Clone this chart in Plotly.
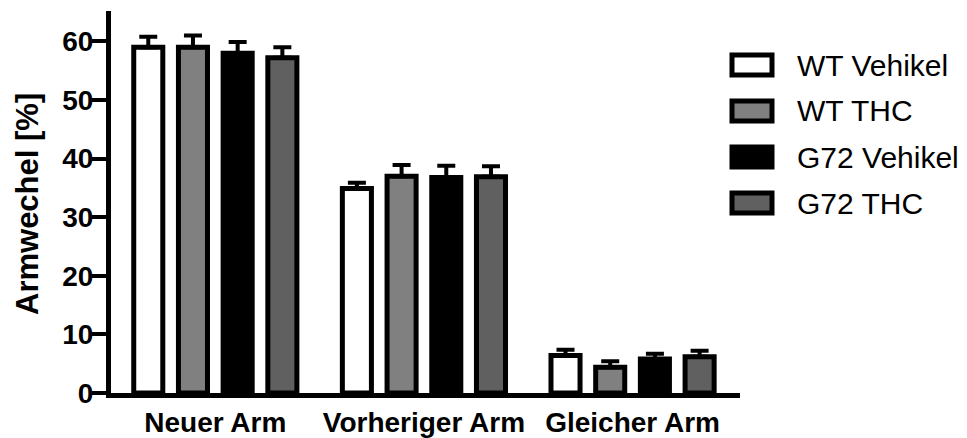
import plotly.graph_objects as go

# Data
categories = ["Neuer Arm", "Vorheriger Arm", "Gleicher Arm"]
groups = ["WT Vehikel", "WT THC", "G72 Vehikel", "G72 THC"]
wt_vehikel = [59.0, 34.9, 6.4]
wt_thc = [59.0, 37.0, 4.4]
g72_vehikel = [58.0, 36.8, 5.8]
g72_thc = [57.2, 36.9, 6.2]
sem_wt_vehikel = [1.8, 1.0, 1.0]
sem_wt_thc = [2.0, 1.9, 1.0]
sem_g72_vehikel = [1.9, 2.0, 0.9]
sem_g72_thc = [1.8, 1.8, 1.0]
y_ticks = [0, 10, 20, 30, 40, 50, 60]

means = [wt_vehikel, wt_thc, g72_vehikel, g72_thc]
sems = [sem_wt_vehikel, sem_wt_thc, sem_g72_vehikel, sem_g72_thc]
fills = ["#ffffff", "#808080", "#000000", "#606060"]

W, H = 967, 438
ML, MR, MT, MB = 111, 227, 11, 45
FONT = "Liberation Sans, Arial, Helvetica, sans-serif"

fig = go.Figure()
for name, m, s, c in zip(groups, means, sems, fills):
    fig.add_trace(go.Bar(
        x=categories, y=m, name=name,
        marker=dict(color=c, line=dict(color="black", width=5)),
        error_y=dict(type="data", symmetric=False, array=s,
                     arrayminus=[0] * len(s), color="black",
                     thickness=4, width=9),
        showlegend=False,
    ))

# Legend drawn as framed swatches with labels (paper coordinates)
pw, ph = W - ML - MR, H - MT - MB
def px(x):
    return (x - ML) / pw
def py(y):
    return 1 - (y - MT) / ph

shapes, annotations = [], []
row0, row_step = 65, 46
for i, (name, c) in enumerate(zip(groups, fills)):
    yc = row0 + i * row_step
    shapes.append(dict(type="rect", xref="paper", yref="paper",
                       x0=px(732), x1=px(772), y0=py(yc + 10), y1=py(yc - 10),
                       fillcolor=c, line=dict(color="black", width=5)))
    annotations.append(dict(xref="paper", yref="paper", x=px(795), y=py(yc),
                            xanchor="left", yanchor="middle", showarrow=False,
                            text=name, font=dict(family=FONT, size=30, color="black")))

# Y-axis title
annotations.append(dict(xref="paper", yref="paper", x=px(28), y=py(204),
                        xanchor="center", yanchor="middle", showarrow=False,
                        textangle=-90, text="<b>Armwechel [%]</b>",
                        font=dict(family=FONT, size=31, color="black")))

fig.update_layout(
    width=W, height=H,
    margin=dict(l=ML, r=MR, t=MT, b=MB, autoexpand=False),
    paper_bgcolor="white", plot_bgcolor="white",
    barmode="group", bargap=0.143, bargroupgap=0.35,
    shapes=shapes, annotations=annotations,
    font=dict(family=FONT, color="black"),
)
fig.update_xaxes(
    range=[-0.5, 2.515], showline=True, linecolor="black", linewidth=5,
    ticks="", showgrid=False, zeroline=False, automargin=False,
    tickfont=dict(family=FONT, size=28, color="black"),
    tickvals=categories, ticktext=[f"<b>{c}</b>" for c in categories],
)
fig.update_yaxes(
    range=[0, 65.2], showline=True, linecolor="black", linewidth=5,
    ticks="outside", ticklen=14, tickwidth=4, tickcolor="black",
    ticklabelstandoff=-7,
    tickvals=y_ticks, ticktext=[f"<b>{t}</b>" for t in y_ticks],
    tickfont=dict(family=FONT, size=28, color="black"),
    showgrid=False, zeroline=False, automargin=False,
)

fig.write_html("out.html")
